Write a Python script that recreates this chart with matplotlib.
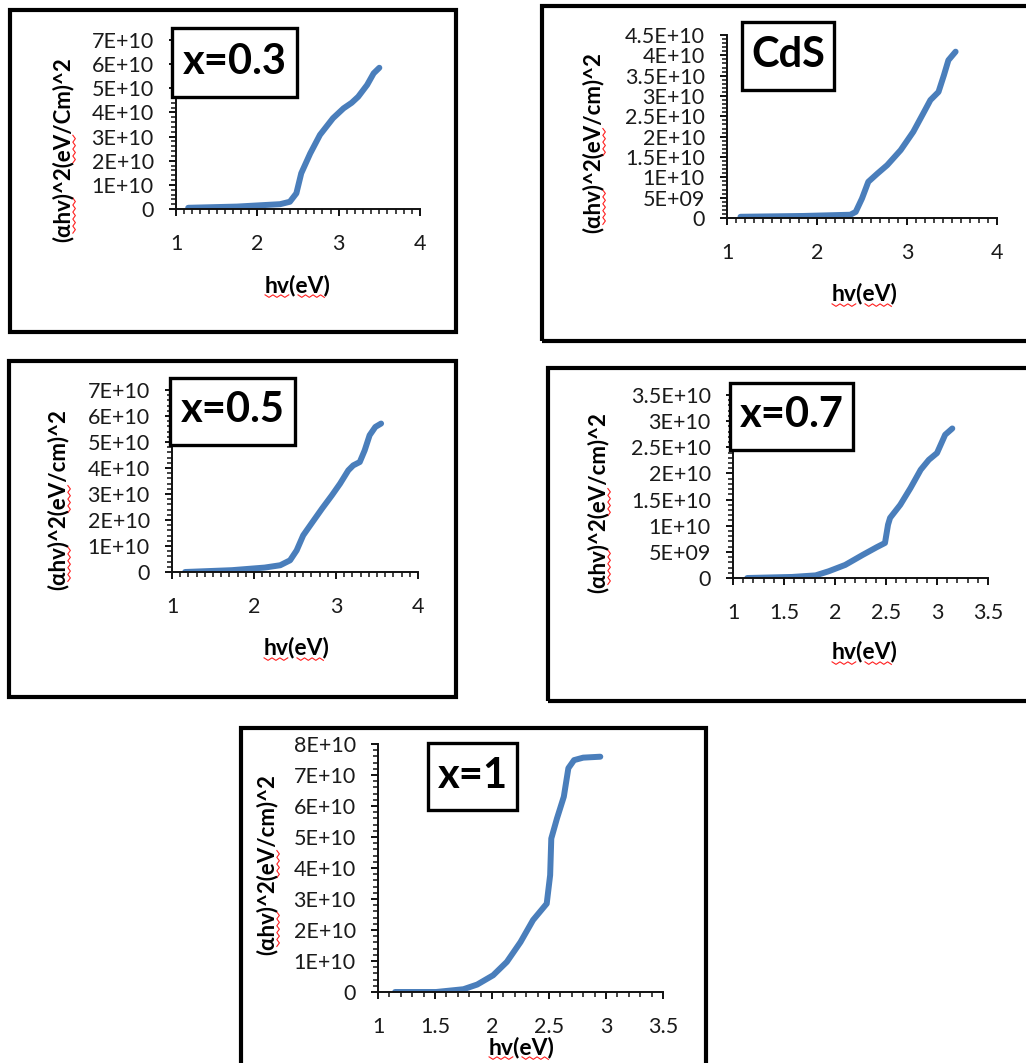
import matplotlib
matplotlib.use("Agg")
import matplotlib.pyplot as plt
from matplotlib.patches import Rectangle
from matplotlib.lines import Line2D
from matplotlib.ticker import MultipleLocator, FuncFormatter
import numpy as np

W, H = 1026, 1063
BLUE = "#4a7ebb"
FONT = ["Lato", "DejaVu Sans"]

# data (hv in eV, (alpha*hv)^2 in units of 1E10)
x03_hv = [1.15, 1.75, 2.28, 2.40, 2.48, 2.54, 2.65, 2.77, 2.93, 3.06, 3.16, 3.24, 3.35, 3.43, 3.50]
x03_y = [0.05, 0.10, 0.20, 0.30, 0.65, 1.48, 2.30, 3.07, 3.76, 4.17, 4.40, 4.65, 5.14, 5.62, 5.85]

cds_hv = [1.15, 1.85, 2.37, 2.43, 2.50, 2.57, 2.67, 2.78, 2.93, 3.07, 3.18, 3.26, 3.35, 3.41, 3.46, 3.54]
cds_y = [0.03, 0.05, 0.08, 0.15, 0.48, 0.89, 1.09, 1.30, 1.67, 2.12, 2.57, 2.90, 3.10, 3.51, 3.88, 4.09]

x05_hv = [1.16, 1.73, 2.13, 2.32, 2.44, 2.52, 2.60, 2.70, 2.83, 2.95, 3.05, 3.15, 3.21, 3.29, 3.35, 3.41, 3.48, 3.55]
x05_y = [0.0, 0.07, 0.17, 0.26, 0.45, 0.83, 1.41, 1.86, 2.44, 2.95, 3.40, 3.91, 4.10, 4.23, 4.68, 5.26, 5.58, 5.71]

x07_hv = [1.14, 1.58, 1.81, 1.94, 2.10, 2.27, 2.41, 2.49, 2.52, 2.54, 2.64, 2.74, 2.84, 2.92, 3.00, 3.08, 3.15]
x07_y = [0.0, 0.02, 0.05, 0.13, 0.25, 0.44, 0.59, 0.67, 1.02, 1.15, 1.40, 1.72, 2.07, 2.26, 2.39, 2.74, 2.86]

x1_hv = [1.15, 1.51, 1.75, 1.87, 2.01, 2.13, 2.25, 2.36, 2.48, 2.51, 2.52, 2.57, 2.63, 2.67, 2.72, 2.80, 2.95]
x1_y = [0.0, 0.0, 0.09, 0.24, 0.54, 0.97, 1.61, 2.32, 2.85, 3.77, 4.95, 5.60, 6.30, 7.22, 7.48, 7.56, 7.59]

tags = ["x=0.3", "CdS", "x=0.5", "x=0.7", "x=1"]
ylabels = ["(αhv)^2(eV/Cm)^2", "(αhv)^2(eV/cm)^2", "(αhv)^2(eV/cm)^2",
           "(αhv)^2(eV/cm)^2", "(αhv)^2(eV/cm)^2"]
series = [(x03_hv, x03_y), (cds_hv, cds_y), (x05_hv, x05_y), (x07_hv, x07_y), (x1_hv, x1_y)]

# layout in pixels: frame, axes box, tag box, x label centre, y label centre
panels = [
    dict(frame=(10, 10, 456, 332), ax=(176, 40, 420, 209), box=(172, 28, 297, 97),
         xl=(298, 285), yl=(63, 150), xlim=(1, 4), xmaj=1, ylim=7, ymaj=1, ymin=0.2),
    dict(frame=(542, 6, 1040, 341), ax=(727, 35, 997, 218), box=(742, 22, 834, 90),
         xl=(865, 294), yl=(593, 143), xlim=(1, 4), xmaj=1, ylim=4.5, ymaj=0.5, ymin=0.1),
    dict(frame=(9, 361, 456, 697), ax=(172, 390, 418, 572), box=(170, 378, 295, 445),
         xl=(297, 648), yl=(58, 500), xlim=(1, 4), xmaj=1, ylim=7, ymaj=1, ymin=0.2),
    dict(frame=(548, 368, 1040, 701), ax=(733, 395, 988, 578), box=(730, 383, 853, 450),
         xl=(865, 652), yl=(598, 503), xlim=(1, 3.5), xmaj=0.5, ylim=3.5, ymaj=0.5, ymin=0.1),
    dict(frame=(241, 728, 706, 1080), ax=(378, 744, 663, 992), box=(428, 743, 517, 810),
         xl=(522, 1047), yl=(267, 865), xlim=(1, 3.5), xmaj=0.5, ylim=8, ymaj=1, ymin=0.2),
]


def fx(x):
    return x / W


def fy(y):
    return 1 - y / H


def ytick_fmt(v, pos):
    if abs(v) < 1e-9:
        return "0"
    return f"{v * 1e10:G}"


def squiggle(fig, x0, x1, y, vertical=False):
    n = max(int(abs(x1 - x0) / 3), 2)
    t = np.linspace(x0, x1, n)
    off = np.array([0 if i % 2 == 0 else 2.5 for i in range(n)])
    if vertical:
        xs, ys = y + off, t
    else:
        xs, ys = t, y + off
    fig.add_artist(Line2D([fx(a) for a in xs], [fy(b) for b in ys], color="#ff2020",
                          lw=0.8, transform=fig.transFigure))


fig = plt.figure(figsize=(W / 100, H / 100), dpi=100)
fig.patch.set_facecolor("white")

label_texts = []
for p, (hv, yv), tag, ylab in zip(panels, series, tags, ylabels):
    l, t, r, b = p["frame"]
    fig.add_artist(Rectangle((fx(l), fy(b)), fx(r - l), (b - t) / H, fill=False,
                             ec="black", lw=3, transform=fig.transFigure))

    l, t, r, b = p["ax"]
    ax = fig.add_axes([fx(l), fy(b), fx(r - l), (b - t) / H])
    ax.plot(hv, yv, color=BLUE, lw=4.3, solid_joinstyle="round", solid_capstyle="round")
    ax.set_xlim(*p["xlim"])
    ax.set_ylim(0, p["ylim"])
    ax.spines["top"].set_visible(False)
    ax.spines["right"].set_visible(False)
    for s in ("left", "bottom"):
        ax.spines[s].set_linewidth(1.4)
        ax.spines[s].set_color("#111111")
    ax.xaxis.set_major_locator(MultipleLocator(p["xmaj"]))
    ax.xaxis.set_minor_locator(MultipleLocator(0.1))
    ax.yaxis.set_major_locator(MultipleLocator(p["ymaj"]))
    ax.yaxis.set_minor_locator(MultipleLocator(p["ymin"]))
    ax.xaxis.set_major_formatter(FuncFormatter(lambda v, pos: f"{v:g}"))
    ax.yaxis.set_major_formatter(FuncFormatter(ytick_fmt))
    ax.tick_params(which="major", direction="out", length=5, width=1.4, color="#111111",
                   labelsize=15.5, labelcolor="#1a1a1a")
    ax.tick_params(axis="x", which="major", pad=13)
    ax.tick_params(axis="y", which="major", pad=11)
    ax.tick_params(which="minor", direction="out", length=3.5, width=1.1, color="#111111")
    for lab in ax.get_xticklabels() + ax.get_yticklabels():
        lab.set_family(FONT)
    ax.patch.set_alpha(0)

    # tag box
    l, t, r, b = p["box"]
    fig.add_artist(Rectangle((fx(l), fy(b)), fx(r - l), (b - t) / H, fc="white",
                             ec="black", lw=2.4, transform=fig.transFigure, zorder=5))
    fig.text(fx((l + r) / 2), fy((t + b) / 2 - 1), tag, ha="center", va="center",
             fontsize=30, fontweight="bold", family=FONT, zorder=6)

    xt = fig.text(fx(p["xl"][0]), fy(p["xl"][1]), "hv(eV)", ha="center", va="center",
                  fontsize=16.5, fontweight="bold", family=FONT)
    yt = fig.text(fx(p["yl"][0]), fy(p["yl"][1]), ylab, ha="center", va="center",
                  rotation=90, fontsize=16, fontweight="bold", family=FONT)
    label_texts.append((xt, yt, tag, (l, t, r, b)))

# red spell-check marks like the original screenshot
fig.canvas.draw()
rend = fig.canvas.get_renderer()
for xt, yt, tag, box in label_texts:
    bb = xt.get_window_extent(rend)
    x0, x1 = bb.x0, bb.x1
    ybase = H - bb.y0 - 1
    wdt = x1 - x0
    squiggle(fig, x0 + 0.0 * wdt, x0 + 0.36 * wdt, ybase)
    squiggle(fig, x0 + 0.5 * wdt, x0 + 0.9 * wdt, ybase)
    bb = yt.get_window_extent(rend)
    hgt = bb.y1 - bb.y0
    xr = bb.x1 - 1
    squiggle(fig, H - (bb.y0 + 0.05 * hgt), H - (bb.y0 + 0.24 * hgt), xr, vertical=True)
    squiggle(fig, H - (bb.y0 + 0.43 * hgt), H - (bb.y0 + 0.58 * hgt), xr, vertical=True)
    if tag == "CdS":
        l, t, r, b = box
        squiggle(fig, l + 8, r - 2, b - 12)

fig.savefig("out.png", dpi=100, facecolor="white")
